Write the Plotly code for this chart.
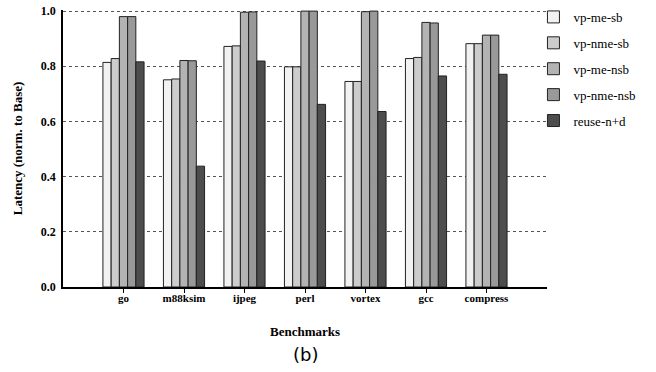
import plotly.graph_objects as go

benchmarks = ["go", "m88ksim", "ijpeg", "perl", "vortex", "gcc", "compress"]
series_names = ["vp-me-sb", "vp-nme-sb", "vp-me-nsb", "vp-nme-nsb", "reuse-n+d"]
vp_me_sb   = [0.814, 0.751, 0.872, 0.798, 0.745, 0.828, 0.882]
vp_nme_sb  = [0.828, 0.754, 0.874, 0.798, 0.745, 0.832, 0.882]
vp_me_nsb  = [0.980, 0.821, 0.996, 1.000, 0.998, 0.959, 0.913]
vp_nme_nsb = [0.980, 0.820, 0.997, 1.000, 1.000, 0.957, 0.913]
reuse_nd   = [0.816, 0.438, 0.819, 0.662, 0.636, 0.765, 0.771]
y_ticks = [0.0, 0.2, 0.4, 0.6, 0.8, 1.0]

values = [vp_me_sb, vp_nme_sb, vp_me_nsb, vp_nme_nsb, reuse_nd]
colors = ["#f2f2f2", "#cccccc", "#b3b3b3", "#999999", "#4d4d4d"]

positions = list(range(1, len(benchmarks) + 1))

fig = go.Figure()
for i, (name, vals, col) in enumerate(zip(series_names, values, colors)):
    fig.add_trace(go.Bar(
        x=positions, y=vals, name=name, legendgroup=name,
        marker=dict(color=col, line=dict(color="#222222", width=1)),
    ))

serif = "Liberation Serif"
fig.update_layout(
    width=656, height=372,
    margin=dict(l=63, r=109, t=10, b=85, autoexpand=False),
    plot_bgcolor="white", paper_bgcolor="white",
    barmode="group", bargap=0.32, bargroupgap=0.0,
    font=dict(family=serif, color="black"),
    legend=dict(x=0.972, xanchor="left", y=1.029, yanchor="top",
                font=dict(family=serif, size=13, color="black"),
                tracegroupgap=6, bgcolor="rgba(0,0,0,0)"),
    showlegend=True,
)
fig.update_xaxes(
    range=[0, 8], tickmode="array", tickvals=positions, ticktext=benchmarks,
    ticks="outside", ticklen=4, tickcolor="black", automargin=False,
    tickfont=dict(family=serif, size=11, color="black", weight="bold"),
    ticklabelstandoff=-4,
    showline=True, linecolor="black", linewidth=1.5, showgrid=False,
    title=dict(text="<b>Benchmarks</b>", font=dict(family=serif, size=13), standoff=24),
    zeroline=False,
)
fig.update_yaxes(
    range=[0, 1.004], tickmode="array", tickvals=y_ticks,
    ticktext=[f"{v:.1f}" for v in y_ticks], automargin=False,
    tickfont=dict(family=serif, size=12, color="black", weight="bold"),
    showline=True, linecolor="black", linewidth=1.5,
    showgrid=True, gridcolor="#555555", griddash="dot", gridwidth=1,
    ticks="", ticklabelstandoff=3,
    title=dict(text="<b>Latency (norm. to Base)</b>", font=dict(family=serif, size=13), standoff=15),
    zeroline=False,
)
fig.add_annotation(
    text="(b)", xref="paper", yref="paper", x=0.5, y=0, yshift=-55,
    xanchor="center", yanchor="top", showarrow=False,
    font=dict(family="DejaVu Sans", size=18, color="black"),
)
fig.write_html("out.html", config={"displayModeBar": False},
               post_script="document.body.style.margin='0';")
